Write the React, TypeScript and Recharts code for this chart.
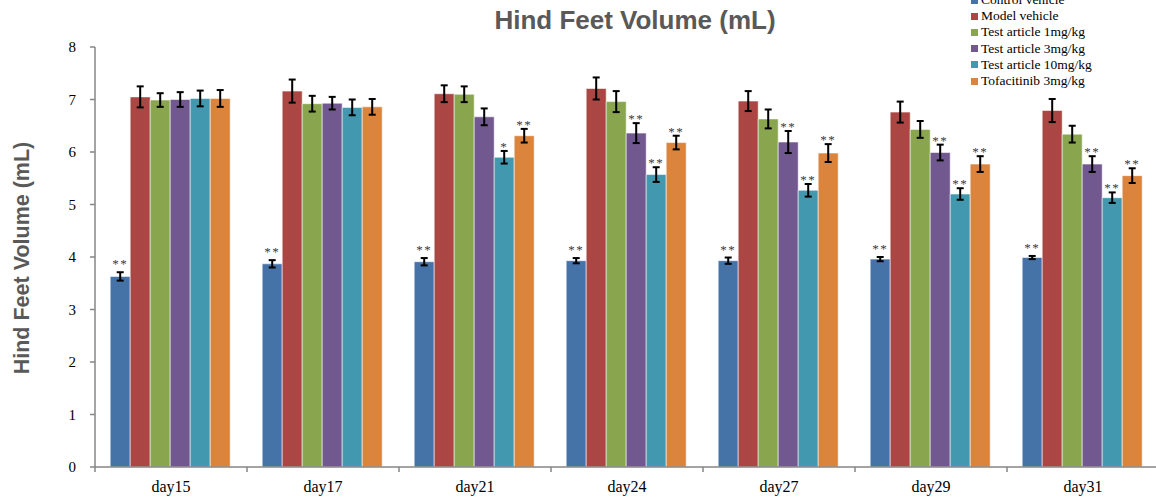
import { Bar, BarChart, ErrorBar, LabelList, XAxis, YAxis } from "recharts";

const categories = ["day15", "day17", "day21", "day24", "day27", "day29", "day31"];

const control = [3.63, 3.87, 3.91, 3.93, 3.93, 3.96, 3.99];
const controlErr = [0.08, 0.07, 0.07, 0.05, 0.06, 0.04, 0.03];
const model = [7.05, 7.16, 7.11, 7.21, 6.97, 6.76, 6.79];
const modelErr = [0.2, 0.22, 0.16, 0.21, 0.19, 0.2, 0.22];
const test1 = [6.99, 6.92, 7.1, 6.96, 6.63, 6.43, 6.34];
const test1Err = [0.13, 0.15, 0.15, 0.2, 0.18, 0.16, 0.16];
const test3 = [7.0, 6.93, 6.67, 6.36, 6.19, 5.99, 5.77];
const test3Err = [0.14, 0.12, 0.16, 0.19, 0.21, 0.15, 0.15];
const test10 = [7.02, 6.85, 5.9, 5.57, 5.27, 5.2, 5.13];
const test10Err = [0.15, 0.15, 0.12, 0.14, 0.12, 0.11, 0.1];
const tofa = [7.02, 6.86, 6.31, 6.18, 5.98, 5.77, 5.55];
const tofaErr = [0.16, 0.15, 0.13, 0.13, 0.17, 0.15, 0.14];

// significance marks vs model vehicle
const controlSig = ["**", "**", "**", "**", "**", "**", "**"];
const noSig = ["", "", "", "", "", "", ""];
const test3Sig = ["", "", "", "**", "**", "**", "**"];
const test10Sig = ["", "", "*", "**", "**", "**", "**"];
const tofaSig = ["", "", "**", "**", "**", "**", "**"];

const yTicks = [0, 1, 2, 3, 4, 5, 6, 7, 8];

const SERIF = "'Liberation Serif', 'Times New Roman', serif";
const SANS = "'Liberation Sans', Arial, sans-serif";
const AXIS = "#868686";

const series = [
  { key: "control", name: "Control vehicle", color: "#4572A7", vals: control, errs: controlErr, sig: controlSig, lift: 4 },
  { key: "model", name: "Model vehicle", color: "#AA4643", vals: model, errs: modelErr, sig: noSig, lift: 0 },
  { key: "test1", name: "Test article 1mg/kg", color: "#89A54E", vals: test1, errs: test1Err, sig: noSig, lift: 0 },
  { key: "test3", name: "Test article 3mg/kg", color: "#71588F", vals: test3, errs: test3Err, sig: test3Sig, lift: 0 },
  { key: "test10", name: "Test article 10mg/kg", color: "#4198AF", vals: test10, errs: test10Err, sig: test10Sig, lift: 0 },
  { key: "tofa", name: "Tofacitinib 3mg/kg", color: "#DB843D", vals: tofa, errs: tofaErr, sig: tofaSig, lift: 0 },
];

const data = categories.map((day, i) => {
  const row: Record<string, string | number> = { day };
  series.forEach(s => {
    row[s.key] = s.vals[i];
    row[s.key + "Err"] = s.errs[i];
  });
  return row;
});

function sigLabel(sig: string[], errs: number[], vals: number[], lift: number) {
  return (props: any) => {
    const vb = props.viewBox ?? props;
    const index = props.index ?? 0;
    const text = sig[index];
    if (!text) return null;
    const errPx = (errs[index] / vals[index]) * vb.height;
    return (
      <text
        x={vb.x + vb.width / 2}
        y={vb.y - errPx - lift}
        textAnchor="middle"
        fontFamily={SERIF}
        fontSize={13}
        letterSpacing={1.5}
        style={{ fill: "#3a3a3a" }}
      >
        {text}
      </text>
    );
  };
}

function DayTick(props: any) {
  const { x, y, payload } = props;
  const half = payload?.offset ?? 76;
  return (
    <g>
      <line x1={x - half} x2={x - half} y1={y} y2={y + 5} stroke={AXIS} strokeWidth={1.5} />
      <text x={x} y={y + 25} textAnchor="middle" fontFamily={SERIF} fontSize={16} fill="#000">
        {payload.value}
      </text>
    </g>
  );
}

function YTitle() {
  return (
    <text
      x={29}
      y={258}
      transform="rotate(-90, 29, 258)"
      textAnchor="middle"
      fontFamily={SANS}
      fontWeight="bold"
      fontSize={21.5}
      fill="#595959"
    >
      Hind Feet Volume (mL)
    </text>
  );
}

export default function App() {
  return (
    <div style={{ position: "absolute", left: 0, top: 0, width: 1156, height: 504, overflow: "hidden", background: "#fff" }}>
      <div
        style={{
          position: "absolute",
          left: 0,
          width: 1270,
          top: 5,
          textAlign: "center",
          fontFamily: SANS,
          fontWeight: "bold",
          fontSize: 26,
          color: "#595959",
          lineHeight: "30px",
        }}
      >
        Hind Feet Volume (mL)
      </div>
      <div style={{ position: "absolute", left: 971, top: -8, fontFamily: SERIF, fontSize: 13.5, color: "#000" }}>
        {series.map(s => (
          <div key={s.key} style={{ display: "flex", alignItems: "center", height: 16.2, whiteSpace: "nowrap" }}>
            <span style={{ width: 7, height: 7, background: s.color, marginRight: 3, display: "inline-block" }} />
            <span>{s.name}</span>
          </div>
        ))}
      </div>
      <BarChart
        width={1162}
        height={504}
        data={data}
        margin={{ top: 47, right: 3, left: 0, bottom: 0 }}
        barCategoryGap="10%"
        barGap={0}
      >
        <XAxis
          dataKey="day"
          height={37}
          interval={0}
          tickLine={false}
          tickSize={0}
          tickMargin={0}
          axisLine={{ stroke: AXIS, strokeWidth: 1.5 }}
          tick={<DayTick />}
        />
        <YAxis
          width={95}
          domain={[0, 8]}
          ticks={yTicks}
          interval={0}
          tickSize={5}
          tickMargin={14}
          axisLine={{ stroke: AXIS, strokeWidth: 1.5 }}
          tickLine={{ stroke: AXIS, strokeWidth: 1.5 }}
          tick={{ fontFamily: SERIF, fontSize: 15, fill: "#000" }}
          label={YTitle}
        />
        {series.map(s => (
          <Bar
            key={s.key}
            dataKey={s.key}
            name={s.name}
            fill={s.color}
            stroke="#ffffff"
            strokeOpacity={0.55}
            strokeWidth={1}
            isAnimationActive={false}
          >
            <ErrorBar dataKey={s.key + "Err"} width={3.5} strokeWidth={2} stroke="#000" direction="y" />
            <LabelList dataKey={s.key} content={sigLabel(s.sig, s.errs, s.vals, s.lift)} />
          </Bar>
        ))}
      </BarChart>
    </div>
  );
}
